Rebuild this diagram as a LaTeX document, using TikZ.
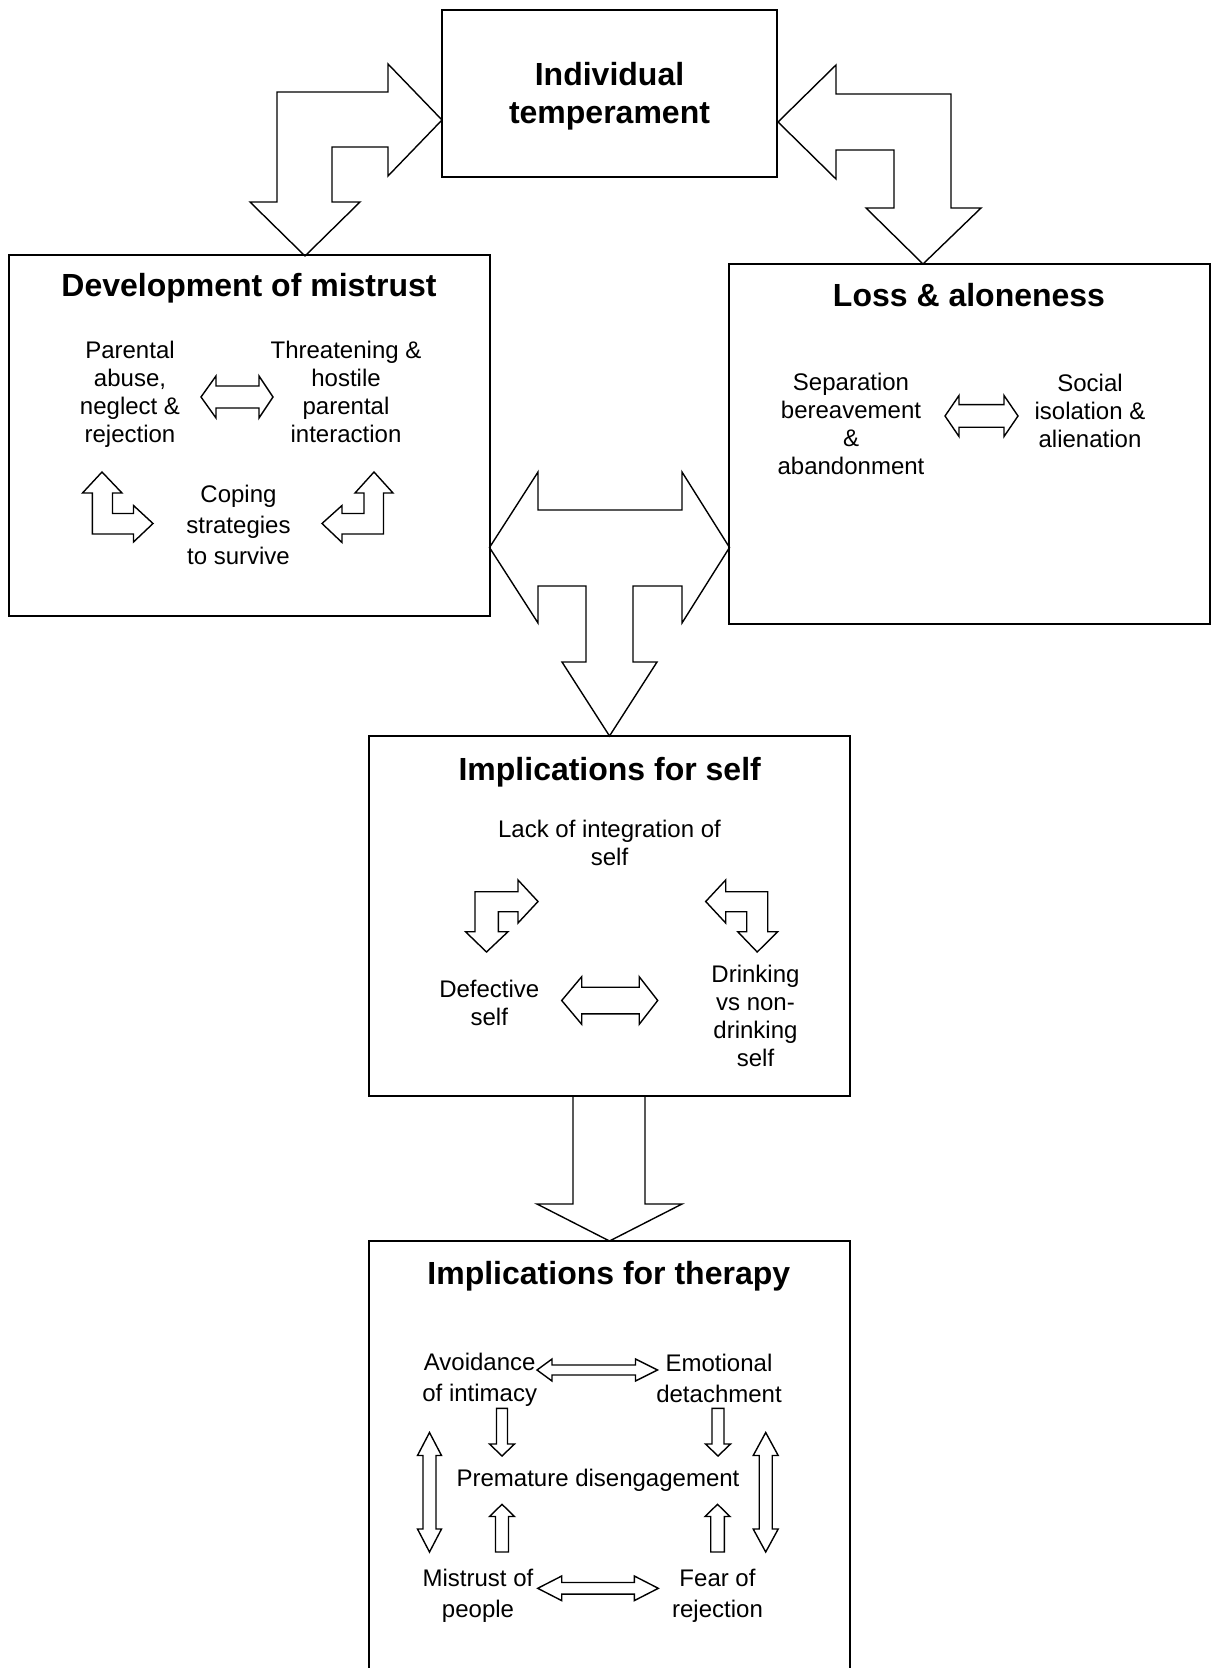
\documentclass[tikz,border=0pt]{standalone}
\usepackage{fontspec}
\setmainfont{Liberation Sans}

% horizontal double arrow: left tip x, right tip x, y, left head, right head, head half, shaft half
\newcommand{\hdarrow}[7]{%
  \draw[blk] (#1,#3) -- ++(#4,-#6) -- ++(0,#6-#7) -- (#2-#5,#3-#7) -- ++(0,#7-#6) -- (#2,#3)
    -- ++(-#5,#6) -- ++(0,#7-#6) -- (#1+#4,#3+#7) -- ++(0,#6-#7) -- cycle;}
% vertical double arrow: x, top tip y, bottom tip y, head, head half, shaft half
\newcommand{\vdarrow}[6]{%
  \draw[blk] (#1,#2) -- ++(#5,#4) -- ++(#6-#5,0) -- (#1+#6,#3-#4) -- ++(#5-#6,0) -- (#1,#3)
    -- ++(-#5,-#4) -- ++(#5-#6,0) -- (#1-#6,#2+#4) -- ++(#6-#5,0) -- cycle;}
% vertical single arrow: x, tail y, head base y, tip y, head half, shaft half
\newcommand{\vsarrow}[6]{%
  \draw[blk] (#1-#6,#2) -- (#1-#6,#3) -- (#1-#5,#3) -- (#1,#4) -- (#1+#5,#3)
    -- (#1+#6,#3) -- (#1+#6,#2) -- cycle;}

\tikzset{
  box/.style={draw, line width=1pt, inner sep=0pt, minimum width=240.5pt, minimum height=180pt},
  ttl/.style={align=center, inner sep=0pt, font=\fontsize{16pt}{19pt}\selectfont\bfseries},
  txt/.style={align=center, inner sep=0pt, font=\fontsize{12pt}{14pt}\selectfont},
  wtxt/.style={txt, font=\fontsize{12pt}{15.3pt}\selectfont},
  blk/.style={line width=0.7pt, line join=miter},
}

\begin{document}
\begin{tikzpicture}[x=0.5pt,y=-0.5pt]
  \useasboundingbox (0,0) rectangle (1211,1668);
  \fill[white] (0,0) rectangle (1211,1668);
  \clip (0,0) rectangle (1211,1668);

  % boxes
  \node[box, minimum width=167.5pt, minimum height=83.5pt] (temp) at (609.5,93.5) {};
  \node[ttl] (tempT) at (609.5,96.7) {Individual\\temperament};
  \node[box] (dev) at (249,435.5) {};
  \node[box] (loss) at (969.75,444) {};
  \node[box] (self) at (609.5,916) {};
  \node[box, minimum height=240pt] (ther) at (609.5,1480.7) {};

  % titles
  \node[ttl] (devT) at (249,288) {Development of mistrust};
  \node[ttl] (lossT) at (969,295.5) {Loss \& aloneness};
  \node[ttl] (selfT) at (609.7,772) {Implications for self};
  \node[ttl] (therT) at (608.8,1276) {Implications for therapy};

  % big arrows
  \draw[blk] (442,120) -- (388,64) -- (388,92) -- (277,92) -- (277,202) -- (250,202) -- (305,256)
    -- (360,202) -- (332,202) -- (332,147) -- (388,147) -- (388,176) -- cycle;
  \draw[blk] (778,122) -- (836,65) -- (836,94) -- (951,94) -- (951,208) -- (981,208) -- (923,264)
    -- (866,208) -- (894,208) -- (894,150) -- (836,150) -- (836,179) -- cycle;
  \draw[blk] (489.5,547.5) -- (538,472) -- (538,510) -- (682,510) -- (682,472) -- (729.5,547.5)
    -- (682,623) -- (682,586) -- (633,586) -- (633,662) -- (657,662) -- (609.5,736) -- (562,662)
    -- (586,662) -- (586,586) -- (538,586) -- (538,623) -- cycle;
  \draw[blk] (573,1096) -- (573,1204) -- (537,1204) -- (609.5,1241) -- (682,1204) -- (645,1204) -- (645,1096);

  % development of mistrust
  \node[txt] (par) at (130,394) {Parental\\abuse,\\neglect \&\\rejection};
  \node[txt] (thr) at (346,391.5) {Threatening \&\\hostile\\parental\\interaction};
  \node[wtxt] (cop) at (238.5,525) {Coping\\strategies\\to survive};
  \hdarrow{201}{273}{397}{15}{14}{21}{11}
  \draw[blk] (102,472) -- (122,493) -- (112.5,493) -- (112.5,513.5) -- (133.5,513.5) -- (133.5,505.5)
    -- (153,523.5) -- (133.5,542) -- (133.5,534) -- (92.3,534) -- (92.3,493) -- (82.5,493) -- cycle;
  \draw[blk] (374,472) -- (393,493) -- (383.5,493) -- (383.5,534) -- (342,534) -- (342,542.5)
    -- (322,523.5) -- (342,505.5) -- (342,513.5) -- (364,513.5) -- (364,493) -- (355,493) -- cycle;

  % loss and aloneness
  \node[txt] (sep) at (851,424) {Separation\\bereavement\\\&\\abandonment};
  \node[txt] (soc) at (1090,410.5) {Social\\isolation \&\\alienation};
  \hdarrow{945}{1018}{416}{14}{14}{20.5}{11.3}

  % implications for self
  \node[txt] (lack) at (609.5,843) {Lack of integration of\\self};
  \node[txt] (def) at (489.3,1002.5) {Defective\\self};
  \node[txt] (drk) at (755.5,1016) {Drinking\\vs non-\\drinking\\self};
  \hdarrow{561.7}{657.7}{1000.5}{20}{18.5}{23.8}{13.3}
  \draw[blk] (538,901.5) -- (518,880) -- (518,891.7) -- (475,891.7) -- (475,931.7) -- (465.5,931.7)
    -- (486.5,952) -- (508,931.7) -- (498.3,931.7) -- (498.3,911.7) -- (518,911.7) -- (518,923) -- cycle;
  \draw[blk] (705.7,901.5) -- (725.7,880) -- (725.7,891.7) -- (767.7,891.7) -- (767.7,931.7) -- (777.7,931.7)
    -- (757.2,952) -- (737.7,931.7) -- (746.7,931.7) -- (746.7,911.7) -- (725.7,911.7) -- (725.7,923) -- cycle;

  % implications for therapy
  \node[wtxt] (avo) at (479.7,1380) {Avoidance\\of intimacy};
  \node[wtxt] (emo) at (719,1378.5) {Emotional\\detachment};
  \node[txt] (pre) at (598,1480) {Premature disengagement};
  \node[wtxt] (mis) at (478,1596) {Mistrust of\\people};
  \node[wtxt] (fea) at (717.5,1596) {Fear of\\rejection};
  \hdarrow{537}{657.5}{1370}{15}{22}{11}{5}
  \hdarrow{537.7}{658.3}{1588.3}{24}{24}{12.3}{5.8}
  \vdarrow{429.5}{1432.5}{1552}{23}{12}{6.5}
  \vdarrow{765.7}{1432.5}{1552}{23}{12.5}{6.5}
  \vsarrow{502}{1408.3}{1444}{1456}{12.5}{5.5}
  \vsarrow{718}{1408.3}{1444}{1456}{12.5}{6}
  \vsarrow{502}{1552}{1516.5}{1504.3}{12.5}{6.5}
  \vsarrow{717.5}{1552}{1516.5}{1504.3}{12.5}{6.8}
\end{tikzpicture}
\end{document}
